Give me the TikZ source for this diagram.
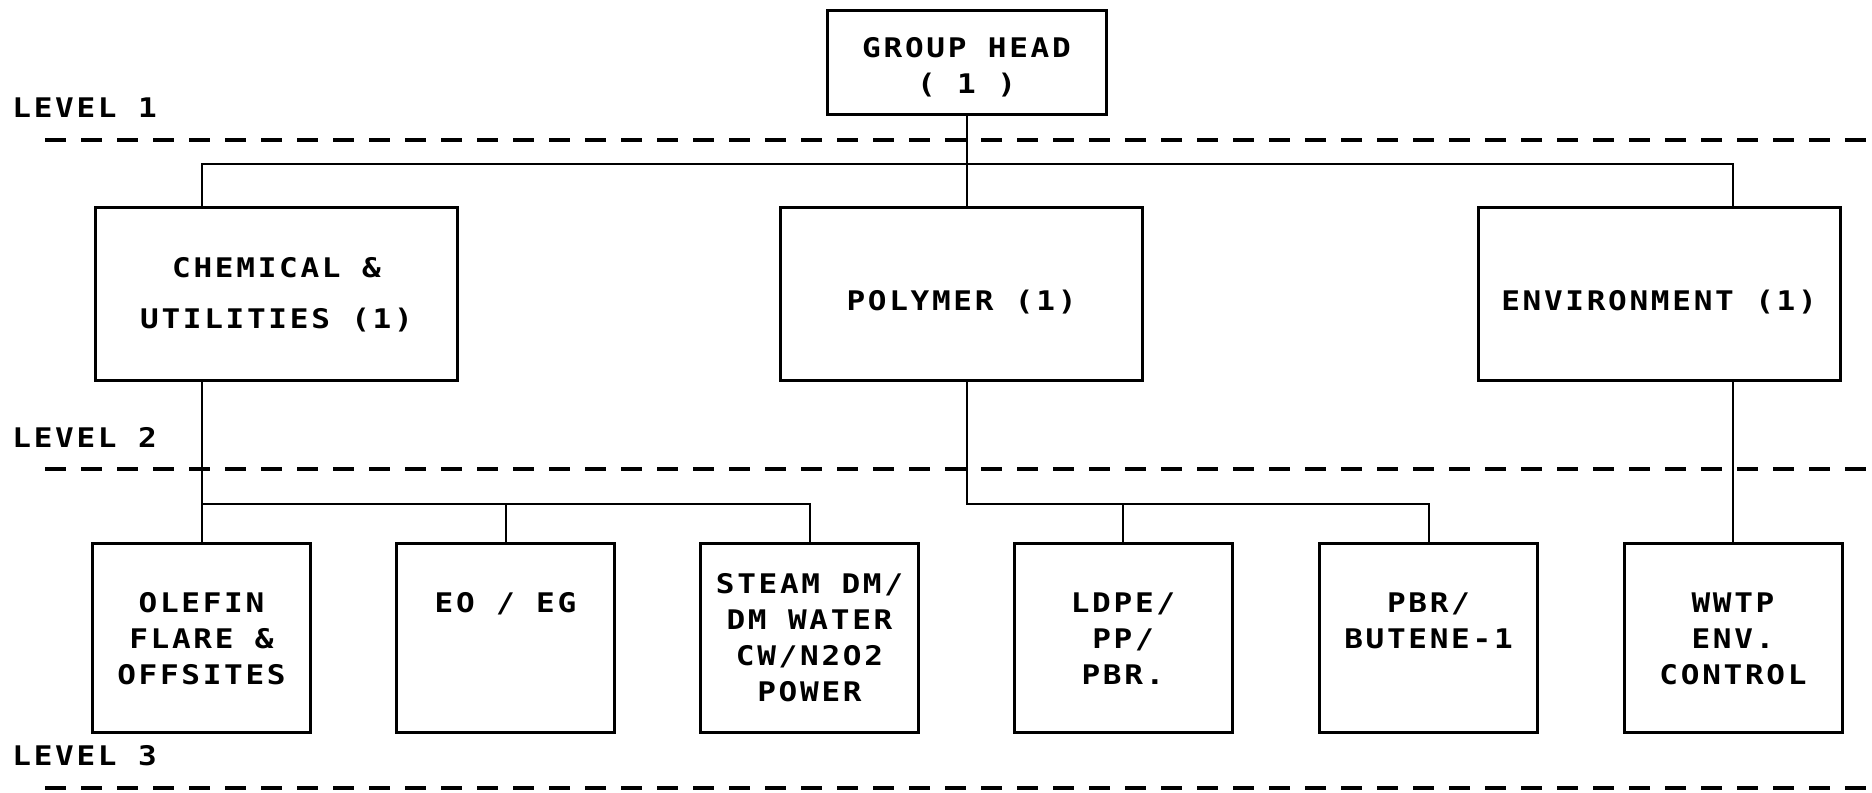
\documentclass[tikz,border=0pt]{standalone}
\usepackage{fontspec}
\newfontfamily\plotfont[FakeStretch=1.15,LetterSpace=10]{DejaVu Sans Mono}
\usepackage{tikz}

\begin{document}
\begin{tikzpicture}[x=0.5pt,y=-0.5pt,
unit/.style={draw,line width=1.5pt,inner sep=0pt},
ltwo/.style={unit,minimum width=181pt,minimum height=86.5pt},
lthree/.style={unit,minimum width=109pt,minimum height=94.5pt},
unittext/.style={anchor=north,yshift=-25.4pt,align=center,inner sep=0pt,font=\plotfont\bfseries\fontsize{13.5}{18}\selectfont},
lvltext/.style={anchor=west,inner sep=0pt,font=\plotfont\bfseries\fontsize{13.5}{18}\selectfont},
lvlline/.style={line width=2pt,dash pattern=on 10.5pt off 7.5pt},
link/.style={line width=1pt}]
\useasboundingbox(0,0)rectangle(1872,792);
\node[unit,minimum width=139.5pt,minimum height=52pt,label={[unittext,yshift=11.6pt]north:GROUP HEAD\\( 1 )}](head)at(966.5,63){};
\node[ltwo,label={[unittext,yshift=-0.2pt,font=\plotfont\bfseries\fontsize{13.5}{25.5}\selectfont]north:CHEMICAL \&\\UTILITIES (1)}](chem)at(276.5,293.5){};
\node[ltwo,label={[unittext,yshift=-16.6pt]north:POLYMER (1)}](polymer)at(961.5,293.5){};
\node[ltwo,label={[unittext,yshift=-16.6pt]north:ENVIRONMENT (1)}](env)at(1659,293.5){};
\node[lthree,label={[unittext]north:OLEFIN\\FLARE \&\\OFFSITES}](olefin)at(201.5,637.5){};
\node[lthree,label={[unittext]north:EO / EG}](eo)at(505.5,637.5){};
\node[lthree,label={[unittext,yshift=9.6pt]north:STEAM DM/\\DM WATER\\CW/N2O2\\POWER}](steam)at(809.5,637.5){};
\node[lthree,label={[unittext]north:LDPE/\\PP/\\PBR.}](ldpe)at(1123,637.5){};
\node[lthree,label={[unittext]north:PBR/\\BUTENE-1}](pbr)at(1428.5,637.5){};
\node[lthree,label={[unittext]north:WWTP\\ENV.\\CONTROL}](wwtp)at(1733,637.5){};
\node[lvltext](lone)at(12,108){LEVEL 1};
\node[lvltext](ltwolabel)at(12,437){LEVEL 2};
\node[lvltext](lthreelabel)at(12,756){LEVEL 3};
\draw[lvlline](45,140)--(1872,140);
\draw[lvlline](45,469)--(1872,469);
\draw[lvlline](45,788)--(1872,788);
\coordinate(topbus)at(966,164);
\coordinate(lowbus)at(966,504);
\draw[link](head.south)--(head.south|-polymer.north);
\draw[link](chem.north-|olefin.north)|-(topbus)-|(env.north-|wwtp.north);
\draw[link](chem.south-|olefin.north)--(olefin.north);
\draw[link](lowbus-|olefin.north)-|(steam.north);
\draw[link](eo.north)--(eo.north|-lowbus);
\draw[link](polymer.south-|head.south)|-(lowbus-|pbr.north)--(pbr.north);
\draw[link](ldpe.north)--(ldpe.north|-lowbus);
\draw[link](env.south-|wwtp.north)--(wwtp.north);
\end{tikzpicture}
\end{document}
